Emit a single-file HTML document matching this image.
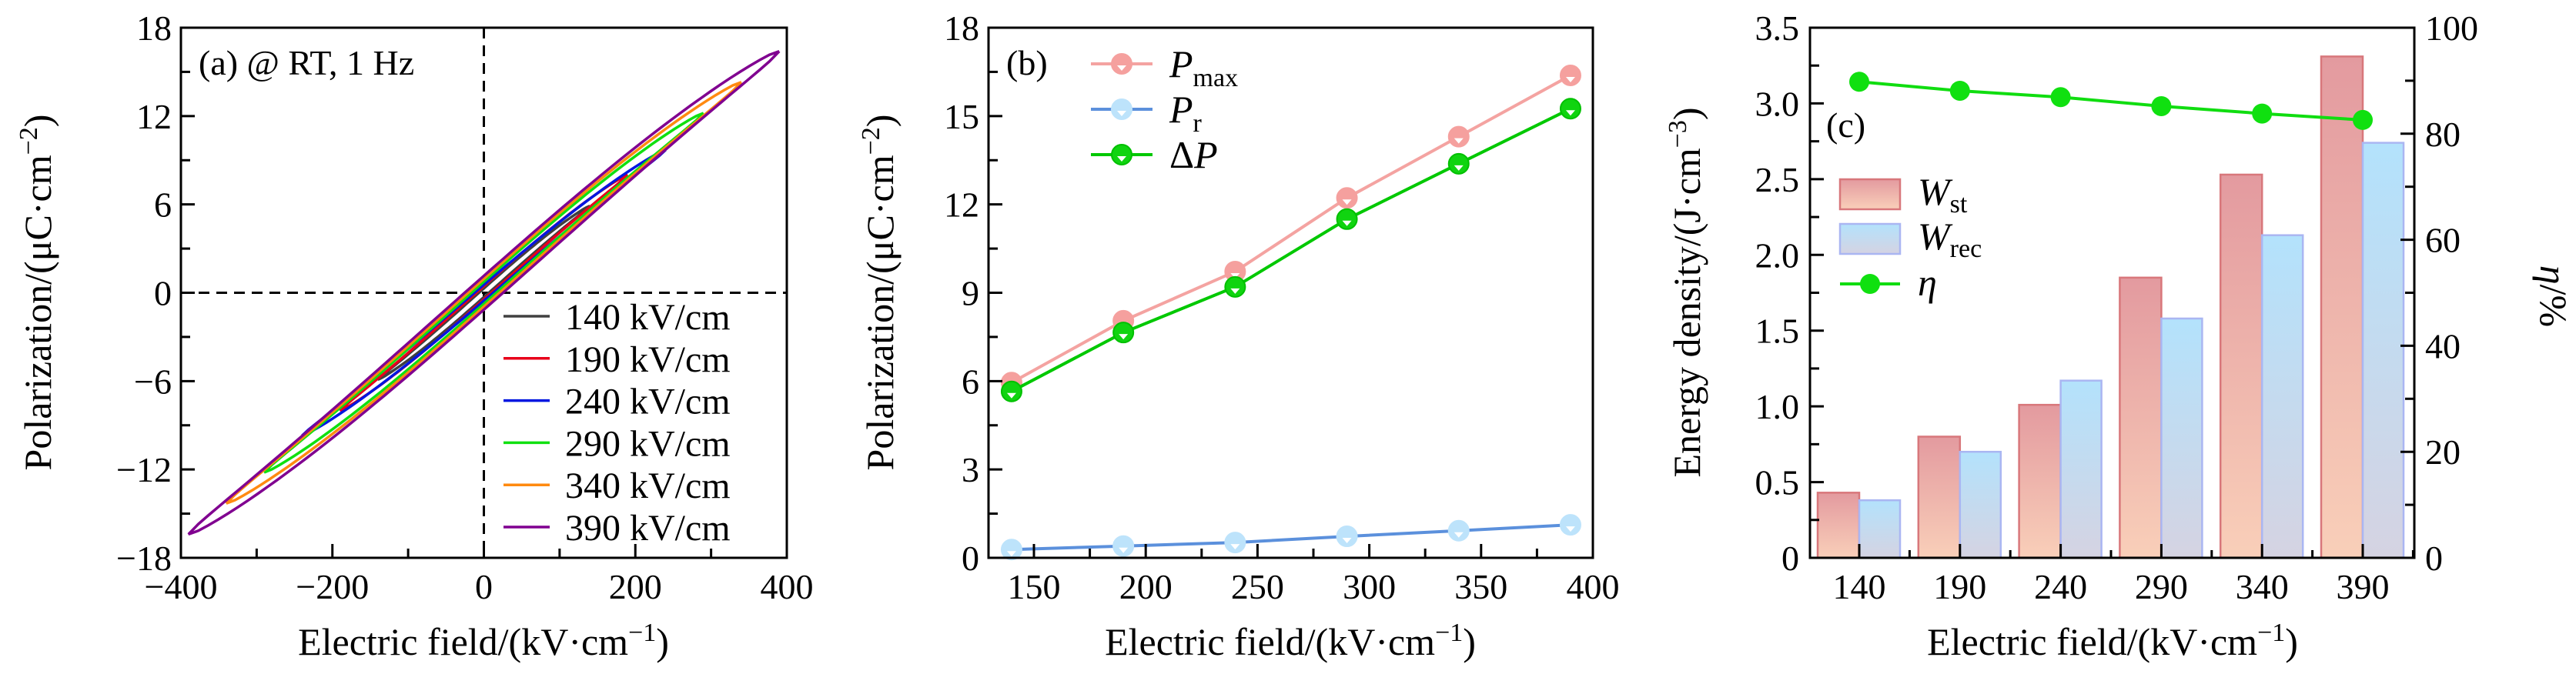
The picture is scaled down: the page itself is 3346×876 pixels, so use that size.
<!DOCTYPE html>
<html><head><meta charset="utf-8"><style>
html,body{margin:0;padding:0;background:#fff;}
svg{display:block;}
svg text{font-family:"Liberation Serif","DejaVu Serif",serif;fill:#000;}
</style></head><body>
<svg id="fig" xmlns="http://www.w3.org/2000/svg" width="3346" height="876" viewBox="0 0 3346 876" font-family="Liberation Serif, serif">
<defs>
<linearGradient id="gSt" x1="0" y1="0" x2="0" y2="1"><stop offset="0" stop-color="#e39a9f"/><stop offset="1" stop-color="#f9cfb9"/></linearGradient>
<linearGradient id="gRec" x1="0" y1="0" x2="0" y2="1"><stop offset="0" stop-color="#b3e2fc"/><stop offset="1" stop-color="#d5d3e2"/></linearGradient>
</defs>
<g id="pa"></g>
<g id="pb"></g>
<g id="pc"></g>
</svg>
<script>
// ---------- data ----------
const loopFields = [140, 190, 240, 290, 340, 390];
const loopPmax = [5.9, 8.0, 9.7, 12.2, 14.3, 16.4];
const loopPr = [0.3, 0.45, 0.55, 0.75, 0.95, 1.15];
const loopColors = ["#404040", "#e8001a", "#0016e0", "#10e010", "#ff8a10", "#800090"];
const loopLabels = ["140 kV/cm", "190 kV/cm", "240 kV/cm", "290 kV/cm", "340 kV/cm", "390 kV/cm"];
const aXTicks = [-400, -200, 0, 200, 400];
const aYTicks = [-18, -12, -6, 0, 6, 12, 18];

const bFields = [140, 190, 240, 290, 340, 390];
const bPmax = [5.95, 8.05, 9.72, 12.22, 14.3, 16.38];
const bPr = [0.28, 0.4, 0.52, 0.73, 0.92, 1.12];
const bDeltaP = [5.65, 7.65, 9.2, 11.5, 13.38, 15.25];
const bXTicks = [150, 200, 250, 300, 350, 400];
const bYTicks = [0, 3, 6, 9, 12, 15, 18];

const cCategories = ["140", "190", "240", "290", "340", "390"];
const cWst = [0.43, 0.8, 1.01, 1.85, 2.53, 3.31];
const cWrec = [0.38, 0.7, 1.17, 1.58, 2.13, 2.74];
const cEta = [89.8, 88.1, 86.9, 85.2, 83.8, 82.6];
const cYTicks = ["0", "0.5", "1.0", "1.5", "2.0", "2.5", "3.0", "3.5"];
const cY2Ticks = [0, 20, 40, 60, 80, 100];

const NS = "http://www.w3.org/2000/svg";
function mk(parent, tag, attrs, txt){
  const e = document.createElementNS(NS, tag);
  for (const k in attrs) e.setAttribute(k, attrs[k]);
  if (tag === "text") e.setAttribute("font-family", "Liberation Serif, serif");
  if (txt !== undefined) e.textContent = txt;
  parent.appendChild(e);
  return e;
}
function lin(d0,d1,r0,r1){return v=>r0+(v-d0)*(r1-r0)/(d1-d0);}
const FS = 46;

function frame(g, L, R, T, B){
  const r = mk(g, "rect", {x:L, y:T, width:R-L, height:B-T, fill:"none", stroke:"#000", "stroke-width":3});
  
  
}
function xTick(g, x, B, len){ mk(g,"line",{x1:x,y1:B,x2:x,y2:B-len,stroke:"#000","stroke-width":3}); }
function yTick(g, y, L, len){ mk(g,"line",{x1:L,y1:y,x2:L+len,y2:y,stroke:"#000","stroke-width":3}); }

function xTitle(g, cx, y, main){
  const t = mk(g,"text",{x:cx,y:y,"text-anchor":"middle","font-size":50});
  
  
  mk(t,"tspan",{},main);
  mk(t,"tspan",{dy:-18,"font-size":34},"−1");
  mk(t,"tspan",{dy:18},")");
  return t;
}
function yTitle(g, x, cy, main, sup, name){
  const t = mk(g,"text",{x:0,y:0,"text-anchor":"middle","font-size":50,transform:`translate(${x},${cy}) rotate(-90)`});
  
  
  mk(t,"tspan",{},main);
  mk(t,"tspan",{dy:-18,"font-size":34},sup);
  mk(t,"tspan",{dy:18},")");
}

// ---------- Panel A ----------
(function(){
  const g = document.getElementById("pa");
  const L=235,R=1022,T=36,B=725;
  const X=lin(-400,400,L,R), Y=lin(-18,18,B,T);
  const zh = mk(g,"line",{x1:L,y1:Y(0),x2:R,y2:Y(0),stroke:"#000","stroke-width":3,"stroke-dasharray":"14 9"});
  
  
  const zv = mk(g,"line",{x1:X(0),y1:T,x2:X(0),y2:B,stroke:"#000","stroke-width":3,"stroke-dasharray":"14 9"});
  
  
  loopFields.forEach((Em,i)=>{
    const Pm=loopPmax[i], Pr=loopPr[i];
    const pts=[];
    const N=60;
    for(let k=0;k<=N;k++){
      const t=1-2*k/N;
      const p=Pm*(1.08*t-0.08*t*t*t)+Pr*Math.pow(Math.max(0,1-t*t),0.6);
      pts.push([X(t*Em),Y(p)]);
    }
    for(let k=0;k<=N;k++){
      const t=-1+2*k/N;
      const p=Pm*(1.08*t-0.08*t*t*t)-Pr*Math.pow(Math.max(0,1-t*t),0.6);
      pts.push([X(t*Em),Y(p)]);
    }
    const pl = mk(g,"polyline",{points:pts.map(p=>p[0].toFixed(1)+","+p[1].toFixed(1)).join(" "),fill:"none",stroke:loopColors[i],"stroke-width":3.5});
    
    
  });
  frame(g,L,R,T,B);
  for(let v=-400;v<=400;v+=100) xTick(g,X(v),B,v%200===0?18:12);
  for(let v=-18;v<=18;v+=3) yTick(g,Y(v),L,v%6===0?18:12);
  aXTicks.forEach(v=>{
    const t=mk(g,"text",{x:X(v),y:778,"text-anchor":"middle","font-size":FS},v<0?"−"+(-v):String(v));
    
    
  });
  aYTicks.forEach(v=>{
    const t=mk(g,"text",{x:L-12,y:Y(v)+16,"text-anchor":"end","font-size":FS},v<0?"−"+(-v):String(v));
    
    
  });
  const lab=mk(g,"text",{x:258,y:97,"font-size":46},"(a) @ RT, 1 Hz");
  
  
  const lg=mk(g,"g",{});
  
  
  loopLabels.forEach((s,i)=>{
    const y=411+i*54.8;
    const e=mk(lg,"g",{});
    
    
    mk(e,"line",{x1:654,y1:y,x2:714,y2:y,stroke:loopColors[i],"stroke-width":3.5});
    mk(e,"text",{x:734,y:y+17,"font-size":48},s);
  });
  xTitle(g,628,851,"Electric field/(kV·cm");
  yTitle(g,66,380,"Polarization/(μC·cm","−2","y-axis-title");
})();

// ---------- Panel B ----------
(function(){
  const g=document.getElementById("pb");
  const L=1284,R=2069,T=36,B=725;
  const X=lin(150,400,1343,2069), Y=lin(0,18,B,T);
  const series=[
    {d:bPr,line:"#5b90dc",fill:"#bde3fb",stroke:"#bde3fb",name:"pr"},
    {d:bPmax,line:"#f4a3a1",fill:"#f5a09e",stroke:"#f5a09e",name:"pmax"},
    {d:bDeltaP,line:"#00c800",fill:"#10d410",stroke:"#00c000",name:"delta-p"}
  ];
  series.forEach(s=>{
    const pts=s.d.map((v,i)=>X(bFields[i]).toFixed(1)+","+Y(v).toFixed(1)).join(" ");
    const pl=mk(g,"polyline",{points:pts,fill:"none",stroke:s.line,"stroke-width":4});
    
    
    s.d.forEach((v,i)=>{
      const cx=X(bFields[i]), cy=Y(v);
      const c=mk(g,"circle",{cx:cx,cy:cy,r:13,fill:s.fill,stroke:s.stroke,"stroke-width":2});
      
      
      mk(g,"path",{d:`M${cx-6},${cy+2} L${cx+6},${cy+2} L${cx},${cy+9} Z`,fill:"#fff"});
    });
  });
  frame(g,L,R,T,B);
  for(let v=150;v<=400;v+=25) xTick(g,X(v),B,v%50===0?18:12);
  for(let v=0;v<=18;v+=1.5) yTick(g,Y(v),L,v%3===0?18:12);
  bXTicks.forEach(v=>{
    const t=mk(g,"text",{x:X(v),y:778,"text-anchor":"middle","font-size":FS},String(v));
    
    
  });
  bYTicks.forEach(v=>{
    const t=mk(g,"text",{x:L-12,y:Y(v)+16,"text-anchor":"end","font-size":FS},String(v));
    
    
  });
  const lab=mk(g,"text",{x:1307,y:97,"font-size":46},"(b)");
  
  
  const lg=mk(g,"g",{});
  
  
  const ent=[[series[1],83,"max"],[series[0],142,"r"],[series[2],201,null]];
  ent.forEach(([s,y,sub])=>{
    const e=mk(lg,"g",{});
    
    
    mk(e,"line",{x1:1417,y1:y,x2:1497,y2:y,stroke:s.line,"stroke-width":4});
    mk(e,"circle",{cx:1457,cy:y,r:13,fill:s.fill,stroke:s.stroke,"stroke-width":2});
    mk(e,"path",{d:`M1451,${y+2} L1463,${y+2} L1457,${y+9} Z`,fill:"#fff"});
    const t=mk(e,"text",{x:1519,y:y+17,"font-size":50});
    if(sub){ mk(t,"tspan",{"font-style":"italic"},"P"); mk(t,"tspan",{dy:12,"font-size":34},sub); }
    else { mk(t,"tspan",{},"Δ"); mk(t,"tspan",{"font-style":"italic"},"P"); }
  });
  xTitle(g,1676,851,"Electric field/(kV·cm");
  yTitle(g,1160,380,"Polarization/(μC·cm","−2","y-axis-title");
})();

// ---------- Panel C ----------
(function(){
  const g=document.getElementById("pc");
  const L=2351,R=3136,T=36,B=725;
  const step=130.8, c0=2415;
  const X=i=>c0+i*step;
  const Y=lin(0,3.5,B,T), Y2=lin(0,100,B,T);
  cCategories.forEach((c,i)=>{
    const x=X(i);
    const b1=mk(g,"rect",{x:x-54,y:Y(cWst[i]),width:54,height:B-Y(cWst[i]),fill:"url(#gSt)",stroke:"#d8777b","stroke-width":2.5});
    
    
    const b2=mk(g,"rect",{x:x,y:Y(cWrec[i]),width:53,height:B-Y(cWrec[i]),fill:"url(#gRec)",stroke:"#aab6f2","stroke-width":2.5});
    
    
  });
  const pl=mk(g,"polyline",{points:cEta.map((v,i)=>X(i).toFixed(1)+","+Y2(v).toFixed(1)).join(" "),fill:"none",stroke:"#10dd10","stroke-width":4});
  
  
  cEta.forEach((v,i)=>{
    const c=mk(g,"circle",{cx:X(i),cy:Y2(v),r:13,fill:"#10e010"});
    
    
  });
  frame(g,L,R,T,B);
  cCategories.forEach((c,i)=>{
    xTick(g,X(i),B,18);
    xTick(g,X(i)+step/2,B,10);
    const t=mk(g,"text",{x:X(i),y:778,"text-anchor":"middle","font-size":FS},c);
    
    
  });
  for(let v=0;v<=3.5;v+=0.25) yTick(g,Y(v),L,Math.abs(v*2-Math.round(v*2))<1e-6?18:12);
  for(let v=0;v<=100;v+=10) yTick(g,Y2(v),R,v%20===0?-18:-12);
  cYTicks.forEach(s=>{
    const t=mk(g,"text",{x:L-14,y:Y(parseFloat(s))+16,"text-anchor":"end","font-size":FS},s);
    
    
  });
  cY2Ticks.forEach(v=>{
    const t=mk(g,"text",{x:R+14,y:Y2(v)+16,"font-size":FS},String(v));
    
    
  });
  const lab=mk(g,"text",{x:2372,y:178,"font-size":46},"(c)");
  
  
  const lg=mk(g,"g",{});
  
  
  const e1=mk(lg,"g",{});  
  mk(e1,"rect",{x:2390,y:233,width:78,height:39,fill:"url(#gSt)",stroke:"#d8777b","stroke-width":2.5});
  let t=mk(e1,"text",{x:2491,y:266,"font-size":50}); mk(t,"tspan",{"font-style":"italic"},"W"); mk(t,"tspan",{dy:10,"font-size":34},"st");
  const e2=mk(lg,"g",{});  
  mk(e2,"rect",{x:2390,y:291,width:78,height:39,fill:"url(#gRec)",stroke:"#aab6f2","stroke-width":2.5});
  t=mk(e2,"text",{x:2491,y:324,"font-size":50}); mk(t,"tspan",{"font-style":"italic"},"W"); mk(t,"tspan",{dy:10,"font-size":34},"rec");
  const e3=mk(lg,"g",{});  
  mk(e3,"line",{x1:2390,y1:369,x2:2468,y2:369,stroke:"#10dd10","stroke-width":4});
  mk(e3,"circle",{cx:2429,cy:369,r:13,fill:"#10e010"});
  mk(e3,"text",{x:2491,y:384,"font-size":50,"font-style":"italic"},"η");
  xTitle(g,2744,851,"Electric field/(kV·cm");
  yTitle(g,2208,380,"Energy density/(J·cm","−3","y-axis-title-left");
  const rt=mk(g,"text",{x:0,y:0,"text-anchor":"middle","font-size":50,transform:"translate(3300,385) rotate(90)"});
  
  
  mk(rt,"tspan",{"font-style":"italic"},"η");
  mk(rt,"tspan",{},"/%");
})();
</script>
</body></html>
